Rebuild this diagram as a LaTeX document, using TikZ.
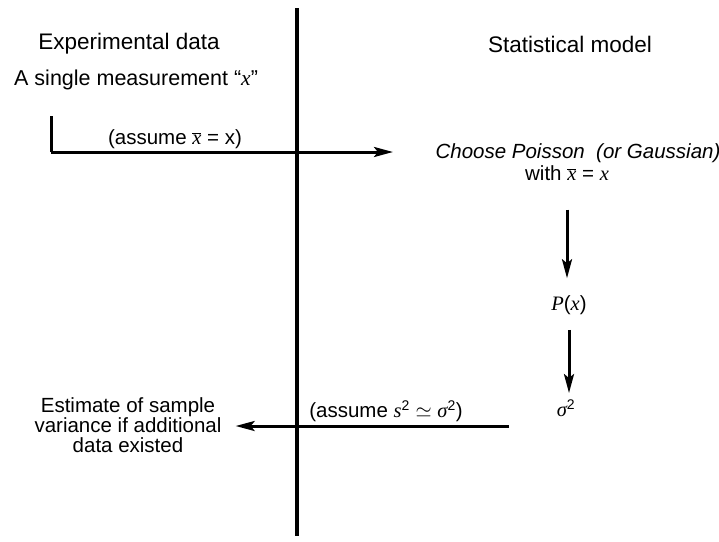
\documentclass[tikz,border=0pt]{standalone}
\usepackage{fontspec}
\setmainfont{Liberation Sans}
\newfontfamily\mathserif{Liberation Serif}
\newcommand{\mv}[1]{{\mathserif\itshape #1}}
\newcommand{\mbar}[1]{$\overline{\hbox{\mv{#1}}}$}
\usetikzlibrary{arrows.meta}
\tikzset{
  lbl/.style={inner sep=0pt, font=\fontsize{20.5}{20}\selectfont},
  head/.style={inner sep=0pt, font=\fontsize{22.5}{24}\selectfont},
  conn/.style={line width=3pt, -{Stealth[length=19pt,width=10pt,inset=4pt]}},
  axis/.style={line width=3.6pt}
}
\begin{document}
\begin{tikzpicture}[x=1pt,y=-1pt]
\useasboundingbox (0,0) rectangle (719,541);
% divider
\coordinate (vtop) at (297,8);
\coordinate (vbot) at (297,536);
\draw[axis] (vtop) -- (vbot);
% headings
\node[head] (exp) at (129,44) {Experimental data};
\node[head] (stat) at (570,44) {Statistical model};
% left top
\node[lbl, anchor=west, font=\fontsize{21.5}{20}\selectfont] (meas) at (14,80) {A single measurement ``\mv{x}''};
\coordinate (l1) at (51,116);
\coordinate (l2) at (51,152);
\node[lbl] (choose1) at (578,153) {\itshape Choose Poisson \ (or Gaussian)};
\node[lbl] (choose2) at (567,173) {with \mbar{x} = \mv{x}};
\coordinate (a1end) at (393,152);
\draw[line width=3pt] (l1) -- (l2);
\draw[conn] (l2) -- (a1end);
\node[lbl] (as1) at (175,139) {(assume \mbar{x} = x)};
% chain
\node[lbl] (px) at (569,305) {\mv{P}(\mv{x})};
\node[lbl] (sig) at (566,408) {\mv{σ}$^{\hbox{\fontsize{14}{14}\selectfont 2}}$};
\draw[conn, shorten <=29pt, shorten >=17pt] (choose2.south) -- (choose2.south |- px.north);
\draw[conn, shorten <=15pt, shorten >=6pt] (px.south) -- (px.south |- sig.north);
% bottom
\node[lbl, align=center] (est) at (128,425) {Estimate of sample\\variance if additional\\data existed};
\coordinate (a2start) at (509,426);
\draw[conn, shorten >=14pt] (a2start) -- (est.east |- a2start);
\node[lbl] (as2) at (386,411) {(assume \mv{s}$^{\hbox{\fontsize{14}{14}\selectfont 2}}$ $\simeq$ \mv{σ}$^{\hbox{\fontsize{14}{14}\selectfont 2}}$)};
\end{tikzpicture}
\end{document}
